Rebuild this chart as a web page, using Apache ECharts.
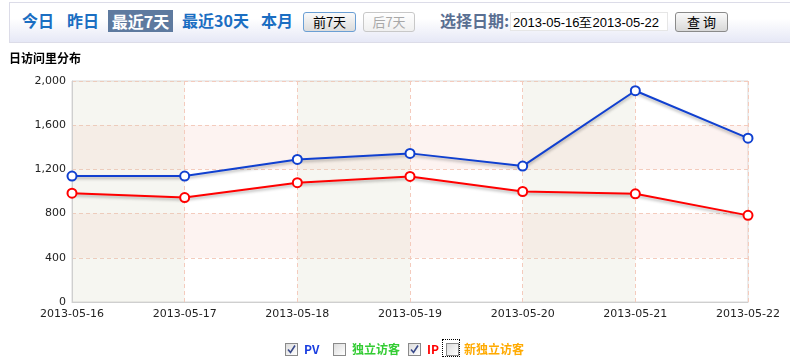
<!DOCTYPE html>
<html>
<head>
<meta charset="utf-8">
<script src="https://cdn.jsdelivr.net/npm/echarts@6/dist/echarts.min.js"></script>
<style>
  html, body { margin: 0; padding: 0; background: #fff; }
  #wrap { position: relative; width: 790px; height: 361px; overflow: hidden; font-family: "Noto Sans CJK SC", sans-serif; }
  #chart { position: absolute; left: 0; top: 0; width: 790px; height: 361px; }
  .abs { position: absolute; white-space: nowrap; }
  #bar { position: absolute; left: 9px; top: 2px; width: 800px; height: 39px; border: 1px solid #dcdce8; border-right: none;
         background: linear-gradient(#ffffff, #ffffff 40%, #e6e8f6); }
  .nav { position: absolute; top: 9px; height: 22px; line-height: 22px; font-size: 16px; font-weight: bold; color: #1b6ec2; }
  .sel { background: #5e7a9f; color: #fff; padding: 0 1px; }
  .btn { position: absolute; top: 12px; height: 18px; line-height: 18px; font-size: 13px; text-align: center; border-radius: 3px; box-sizing: content-box; }
  .cb { position: absolute; top: 343px; width: 11px; height: 11px; border: 1px solid #8a8a8a; background: linear-gradient(135deg, #dcdcdc, #ffffff); }
  .lg { position: absolute; top: 341px; height: 16px; line-height: 16px; font-size: 12px; font-weight: bold; }
</style>
</head>
<body>
<div id="wrap">
  <div id="chart"></div>
  <div id="bar"></div>
  <div class="nav" style="left:22px;">今日</div>
  <div class="nav" style="left:67px;">昨日</div>
  <div class="nav sel" style="left:108px;top:10px;width:63px;text-align:center;">最近7天</div>
  <div class="nav" style="left:182px;">最近30天</div>
  <div class="nav" style="left:261px;">本月</div>
  <div class="btn" style="left:303px;width:51px;border:1px solid #6b9fd4;background:linear-gradient(#fafafa,#dcdcdc);color:#000;">前7天</div>
  <div class="btn" style="left:363px;width:50px;border:1px solid #c8c8c8;background:linear-gradient(#ffffff,#f0f0f0);color:#a8a8a8;">后7天</div>
  <div class="nav" style="left:440px;color:#5a6f92;font-size:16px;">选择日期:</div>
  <div class="abs" style="left:510px;top:12px;width:158px;height:19px;background:#fff;border:1px solid #e6e6e6;font-family:'Liberation Sans';font-size:13px;line-height:19px;color:#000;padding-left:2px;box-sizing:border-box;">2013-05-16至2013-05-22</div>
  <div class="btn" style="left:675px;width:51px;border:1px solid #8a8a8a;background:linear-gradient(#fafafa,#d8d8d8);color:#000;">查&nbsp;询</div>

  <div class="cb" style="left:285px;"><svg width="11" height="11" style="position:absolute;left:0;top:0"><path d="M2 5.5 L4.5 8.5 L9 1.5" stroke="#3a4a8a" stroke-width="1.6" fill="none"/></svg></div>
  <div class="lg" style="left:304px;color:#1a3ee0;">PV</div>
  <div class="cb" style="left:333px;"></div>
  <div class="lg" style="left:352px;color:#33cc33;">独立访客</div>
  <div class="cb" style="left:408px;"><svg width="11" height="11" style="position:absolute;left:0;top:0"><path d="M2 5.5 L4.5 8.5 L9 1.5" stroke="#3a4a8a" stroke-width="1.6" fill="none"/></svg></div>
  <div class="lg" style="left:427px;color:#ff0000;">IP</div>
  <div class="abs" style="left:442px;top:339px;width:18px;height:18px;border:1px dotted #000;box-sizing:border-box;"></div>
  <div class="cb" style="left:446px;"></div>
  <div class="lg" style="left:464px;color:#ffaa00;">新独立访客</div>
</div>
<script>
const categories = ['2013-05-16','2013-05-17','2013-05-18','2013-05-19','2013-05-20','2013-05-21','2013-05-22'];
const pvValues = [1140, 1140, 1290, 1345, 1230, 1912, 1483];
const ipValues = [985, 945, 1080, 1136, 1000, 979, 784];
const yMin = 0, yMax = 2000, yInterval = 400;

const chart = echarts.init(document.getElementById('chart'));
const axisFont = { fontFamily: 'DejaVu Sans', fontSize: 11, color: '#222' };
const mkLine = (name, data, color) => ({
  name, type: 'line', data,
  symbol: 'emptyCircle', symbolSize: 9,
  lineStyle: { color, width: 2, shadowColor: 'rgba(0,0,0,0.3)', shadowBlur: 3, shadowOffsetY: 2 },
  itemStyle: { color, borderColor: color, borderWidth: 1.5 },
  animation: false
});
chart.setOption({
  animation: false,
  title: { text: '日访问里分布', left: 9, top: 52, padding: 0, textStyle: { fontFamily: 'Noto Sans CJK SC', fontSize: 12, fontWeight: 'bold', color: '#000' } },
  grid: { left: 72, top: 81, right: 42, bottom: 59, show: true, borderColor: '#d9d9d9', borderWidth: 1, backgroundColor: 'transparent' },
  xAxis: {
    type: 'category', data: categories, boundaryGap: false,
    axisLine: { lineStyle: { color: '#cfcfcf' } },
    axisTick: { show: false },
    axisLabel: Object.assign({ margin: 7 }, axisFont),
    splitLine: { show: true, lineStyle: { color: '#f4cbbd', type: [4, 3] } },
    splitArea: { show: true, areaStyle: { color: ['rgba(210,210,185,0.2)', 'rgba(255,255,255,0)'] } }
  },
  yAxis: {
    type: 'value', min: yMin, max: yMax, interval: yInterval,
    axisLine: { show: true, lineStyle: { color: '#cfcfcf' } },
    axisTick: { show: false },
    axisLabel: Object.assign({ margin: 6, formatter: v => v.toLocaleString('en-US') }, axisFont),
    splitLine: { show: true, lineStyle: { color: '#f4cbbd', type: [4, 3] } },
    splitArea: { show: true, areaStyle: { color: ['rgba(0,0,0,0)', 'rgba(245,200,190,0.22)'] } }
  },
  series: [mkLine('PV', pvValues, '#1040d0'), mkLine('IP', ipValues, '#ff0000')]
});
</script>
</body>
</html>
